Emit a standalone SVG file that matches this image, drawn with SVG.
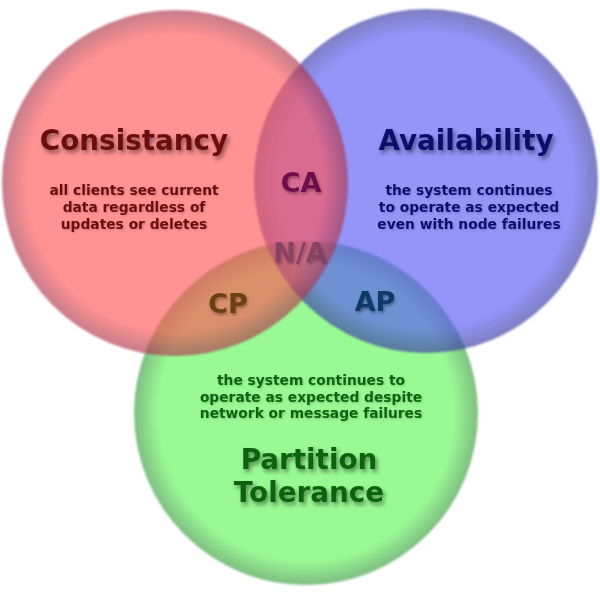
<svg xmlns="http://www.w3.org/2000/svg" width="600" height="600" viewBox="0 0 600 600">
<defs>
<radialGradient id="gr" cx="0.5" cy="0.5" r="0.5">
<stop offset="0" stop-color="#ff5555"/><stop offset="0.86" stop-color="#ff5555"/><stop offset="1" stop-color="#a8344c"/>
</radialGradient>
<radialGradient id="gb" cx="0.5" cy="0.5" r="0.5">
<stop offset="0" stop-color="#5858f7"/><stop offset="0.86" stop-color="#5858f7"/><stop offset="1" stop-color="#3636a0"/>
</radialGradient>
<radialGradient id="gg" cx="0.5" cy="0.5" r="0.5">
<stop offset="0" stop-color="#61f758"/><stop offset="0.86" stop-color="#61f758"/><stop offset="1" stop-color="#389a3e"/>
</radialGradient>
<filter id="soft" x="-10%" y="-10%" width="120%" height="120%">
<feGaussianBlur stdDeviation="1.2"/>
</filter>
<filter id="ts" x="-20%" y="-40%" width="140%" height="180%">
<feDropShadow dx="2" dy="3" stdDeviation="2" flood-color="#000" flood-opacity="0.45"/>
</filter>
<filter id="ts2" x="-20%" y="-40%" width="140%" height="180%">
<feDropShadow dx="1" dy="2" stdDeviation="1.5" flood-color="#000" flood-opacity="0.35"/>
</filter>
<filter id="ts3" x="-10%" y="-40%" width="120%" height="180%">
<feDropShadow dx="1" dy="1" stdDeviation="0.8" flood-color="#000" flood-opacity="0.2"/>
</filter>
</defs>
<style>
.c{opacity:0.64}
.t{font-family:"DejaVu Sans",Verdana,sans-serif;font-weight:bold;text-anchor:middle}
.h{font-size:27.8px;filter:url(#ts)}
.s{font-size:27px;filter:url(#ts2)}
.b{font-size:13.8px;filter:url(#ts3)}
</style>
<rect width="600" height="600" fill="#fff"/>
<g id="partition-circle"><circle class="c" cx="306" cy="413" r="172" fill="url(#gg)" filter="url(#soft)"/></g>
<g id="availability-circle"><circle class="c" cx="426" cy="181" r="172" fill="url(#gb)" filter="url(#soft)"/></g>
<g id="consistency-circle"><circle class="c" cx="175" cy="183" r="173" fill="url(#gr)" filter="url(#soft)"/></g>
<g id="consistency" class="t" fill="#6b0c10">
<text class="h" x="134" y="150">Consistancy</text>
<text class="b" x="134" y="195">all clients see current</text>
<text class="b" x="134" y="212">data regardless of</text>
<text class="b" x="134" y="229">updates or deletes</text>
</g>
<g id="availability" class="t" fill="#10106e">
<text class="h" x="466" y="150">Availability</text>
<text class="b" x="469" y="195">the system continues</text>
<text class="b" x="469" y="212">to operate as expected</text>
<text class="b" x="469" y="229">even with node failures</text>
</g>
<g id="partition" class="t" fill="#0c640c">
<text class="b" x="311" y="385">the system continues to</text>
<text class="b" x="311" y="402">operate as expected despite</text>
<text class="b" x="311" y="418">network or message failures</text>
<text class="h" x="309" y="469">Partition</text>
<text class="h" x="309" y="502">Tolerance</text>
</g>
<g id="ca" class="t"><text class="s" x="301" y="192" fill="#6e0f4c">CA</text></g>
<g id="na" class="t"><text class="s" x="300" y="262" fill="#7a3a5e" opacity="0.8">N/A</text></g>
<g id="cp" class="t"><text class="s" x="228" y="313" fill="#6a4010">CP</text></g>
<g id="ap" class="t"><text class="s" x="375" y="311" fill="#0e3a68">AP</text></g>
<g id="connectors"/>
</svg>
